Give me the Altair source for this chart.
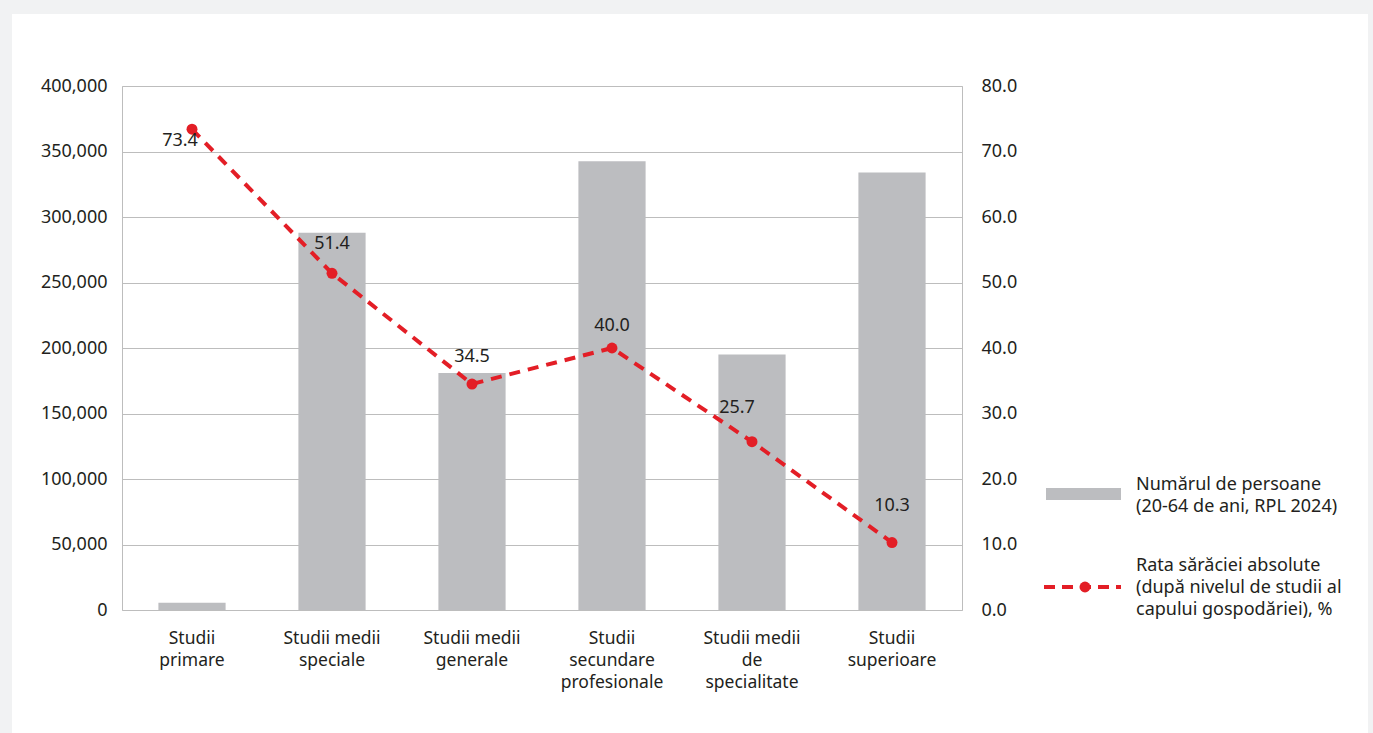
import altair as alt
import pandas as pd

# Education levels (line breaks mark where axis labels wrap)
categories = [
    "Studii\nprimare",
    "Studii medii\nspeciale",
    "Studii medii\ngenerale",
    "Studii\nsecundare\nprofesionale",
    "Studii medii\nde\nspecialitate",
    "Studii\nsuperioare",
]
# Number of persons aged 20-64 (RPL 2024)
persons = [5500, 288000, 181000, 342500, 195000, 334000]
# Absolute poverty rate by education level of household head, %
poverty_rate = [73.4, 51.4, 34.5, 40.0, 25.7, 10.3]

df = pd.DataFrame({"cat": categories, "persons": persons, "rate": poverty_rate})
one = pd.DataFrame({"k": [0]})  # single row for decorations

FONT = "Noto Sans"
FS = 18
TXT = "#231f20"
GRID = "#bdbdbd"
BAR = "#bcbdc0"
RED = "#e31e26"
PAGE = "#f1f2f3"

W, H = 840, 524
LEFT, TOP = 122, 86

x = alt.X("cat:N", sort=categories, title=None,
          scale=alt.Scale(paddingInner=0.52, paddingOuter=0.26),
          axis=alt.Axis(labelAngle=0, labelExpr="split(datum.label, '\\n')",
                        labelLineHeight=22, labelPadding=19, labelBaseline="top",
                        ticks=False, domain=False, labelFontSize=17.5,
                        labelColor=TXT, labelFont=FONT))

bars = alt.Chart(df).mark_bar(color=BAR).encode(
    x=x,
    y=alt.Y("persons:Q", title=None,
            scale=alt.Scale(domain=[0, 400000], nice=False),
            axis=alt.Axis(values=list(range(0, 400001, 50000)),
                          labelExpr="format(datum.value, ',')",
                          grid=True, gridColor=GRID, gridWidth=1,
                          ticks=False, domain=False, labelPadding=15,
                          labelFontSize=FS, labelColor=TXT, labelFont=FONT)),
)

rate_scale = alt.Scale(domain=[0, 80], nice=False)
y_rate = alt.Y("rate:Q", title=None, scale=rate_scale,
               axis=alt.Axis(orient="right", values=list(range(0, 81, 10)),
                             labelExpr="format(datum.value, '.1f')",
                             grid=False, ticks=False, domain=False,
                             labelPadding=19, labelFontSize=FS,
                             labelColor=TXT, labelFont=FONT))

line = alt.Chart(df).mark_line(color=RED, strokeWidth=4, strokeDash=[11, 8]).encode(
    x=x, y=y_rate)
points = alt.Chart(df).mark_point(filled=True, color=RED, size=120, opacity=1).encode(
    x=x, y=y_rate)


def value_label(i, dx, dy):
    """Value label for the i-th point, nudged off the marker."""
    return alt.Chart(df).transform_filter(
        alt.datum.cat == categories[i]
    ).mark_text(font=FONT, fontSize=FS, color=TXT, dx=dx, dy=dy).encode(
        x=x, y=y_rate,
        text=alt.Text("rate:Q", format=".1f"))


labels = [
    value_label(0, -12, 12),
    value_label(1, 0, -29),
    value_label(2, 0, -27),
    value_label(3, 0, -22),
    value_label(4, -15, -34),
    value_label(5, 0, -37),
]

# grey page margins around the white card
frame = [
    alt.Chart(one).mark_rect(color=PAGE).encode(
        x=alt.value(-LEFT), x2=alt.value(12 - LEFT),
        y=alt.value(-TOP), y2=alt.value(733 - TOP)),
    alt.Chart(one).mark_rect(color=PAGE).encode(
        x=alt.value(-LEFT), x2=alt.value(1373 - LEFT),
        y=alt.value(-TOP), y2=alt.value(14 - TOP)),
    alt.Chart(one).mark_rect(color=PAGE).encode(
        x=alt.value(1368 - LEFT), x2=alt.value(1373 - LEFT),
        y=alt.value(-TOP), y2=alt.value(733 - TOP)),
]

# legend
leg_swatch = alt.Chart(one).mark_rect(color=BAR).encode(
    x=alt.value(924), x2=alt.value(999), y=alt.value(402), y2=alt.value(414))
leg_line = alt.Chart(one).mark_rule(color=RED, strokeWidth=4, strokeDash=[11, 7]).encode(
    x=alt.value(922), x2=alt.value(999), y=alt.value(501))
leg_dot = alt.Chart(one).mark_point(filled=True, color=RED, size=120, opacity=1).encode(
    x=alt.value(963), y=alt.value(501))
leg_text1 = alt.Chart(one).mark_text(font=FONT, fontSize=FS, color=TXT, align="left",
                                     baseline="middle", lineHeight=22).encode(
    x=alt.value(1014), y=alt.value(399),
    text=alt.value(["Numărul de persoane", "(20-64 de ani, RPL 2024)"]))
leg_text2 = alt.Chart(one).mark_text(font=FONT, fontSize=FS, color=TXT, align="left",
                                     baseline="middle", lineHeight=22).encode(
    x=alt.value(1014), y=alt.value(480),
    text=alt.value(["Rata sărăciei absolute", "(după nivelul de studii al",
                    "capului gospodăriei), %"]))

chart = alt.layer(
    bars,
    alt.layer(line, points, *labels),
    *frame,
    leg_swatch, leg_line, leg_dot, leg_text1, leg_text2,
).resolve_scale(y="independent").properties(
    width=W, height=H,
    autosize=alt.AutoSizeParams(type="none"),
    padding={"left": LEFT, "top": TOP, "right": 1373 - LEFT - W, "bottom": 733 - TOP - H},
    background="white",
).configure_view(stroke=GRID, strokeWidth=1)

chart.save("out.html", embed_options={"renderer": "svg", "actions": False})
